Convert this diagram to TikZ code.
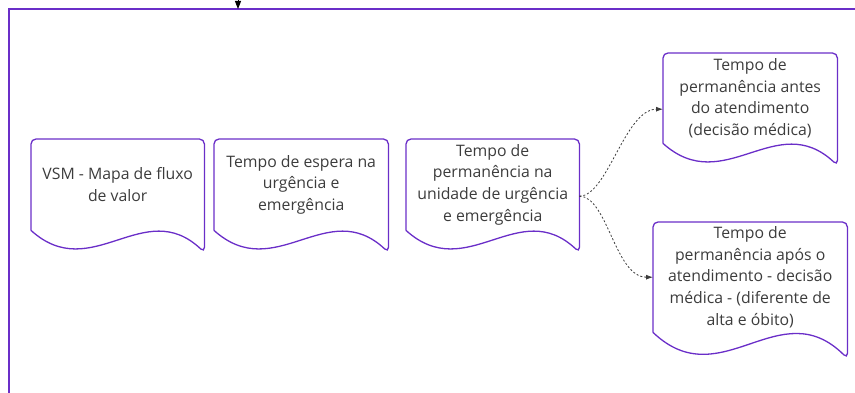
\documentclass[tikz,border=0pt]{standalone}
\usepackage{fontspec}
\setmainfont{Open Sans}
\usetikzlibrary{arrows.meta,calc}
\definecolor{framepurple}{RGB}{106,46,200}
\definecolor{textgray}{RGB}{60,60,60}
% outline of a document box: node name, dip of the wave at the right
\newcommand{\docoutline}[2]{%
  \draw[docline] (#1.south west) [rounded corners=5pt] -- (#1.north west) -- (#1.north east)
    -- ([yshift=-#2]#1.south east) [sharp corners]
    .. controls ($(#1.south west)!0.65!(#1.south east)+(0pt,1.6*#2)$)
    and ($(#1.south west)!0.35!(#1.south east)+(0pt,-2.5*#2)$) .. (#1.south west);}
\begin{document}
\begin{tikzpicture}[x=1pt,y=-1pt,
  docbox/.style={anchor=north west,inner sep=0pt,align=center,text=textgray,
    font=\fontsize{15.8pt}{21.7pt}\selectfont},
  docline/.style={draw=framepurple,line width=1.3pt},
  frameline/.style={draw=framepurple,line width=2pt},
  flowline/.style={draw=textgray,line width=0.8pt,dash pattern=on 2pt off 2pt,
    -{Latex[length=7pt,width=5pt]}}]
  \useasboundingbox (0,0) rectangle (855,393);
	% frame
	\draw[frameline] (9,393) -- (9,9) -- (855,9);
	\coordinate (entry) at (238,-10);
	\coordinate (entryend) at (238,9);
	\draw[line width=1pt,-{Triangle[length=8pt,width=6pt]}] (entry) -- (entryend);

	% boxes
	\node[docbox,minimum width=173pt,minimum height=91pt] (vsm) at (31,139) {VSM - Mapa de fluxo\\de valor};
	\node[docbox,minimum width=174pt,minimum height=91pt] (espera) at (214,139) {Tempo de espera na\\urgência e\\emergência};
	\node[docbox,minimum width=173pt,minimum height=91pt] (perm) at (406,139) {Tempo de\\permanência na\\unidade de urgência\\e emergência};
	\node[docbox,minimum width=174pt,minimum height=90pt] (antes) at (663,53) {Tempo de\\permanência antes\\do atendimento\\(decisão médica)};
	\node[docbox,minimum width=194pt,minimum height=110pt] (apos) at (653,222) {Tempo de\\permanência após o\\atendimento - decisão\\médica - (diferente de\\alta e óbito)};

	\foreach \b in {vsm,espera,perm,antes}
	  {\docoutline{\b}{22pt}}
	\docoutline{apos}{26pt}

	% connectors
	\draw[flowline] ([yshift=-11.5pt]perm.east) .. controls +(28pt,0pt) and +(-38pt,0pt) .. ([yshift=-11pt]antes.west);
	\draw[flowline] ([yshift=-11.5pt]perm.east) .. controls +(28pt,0pt) and +(-38pt,0pt) .. (apos.west);
\end{tikzpicture}
\end{document}
